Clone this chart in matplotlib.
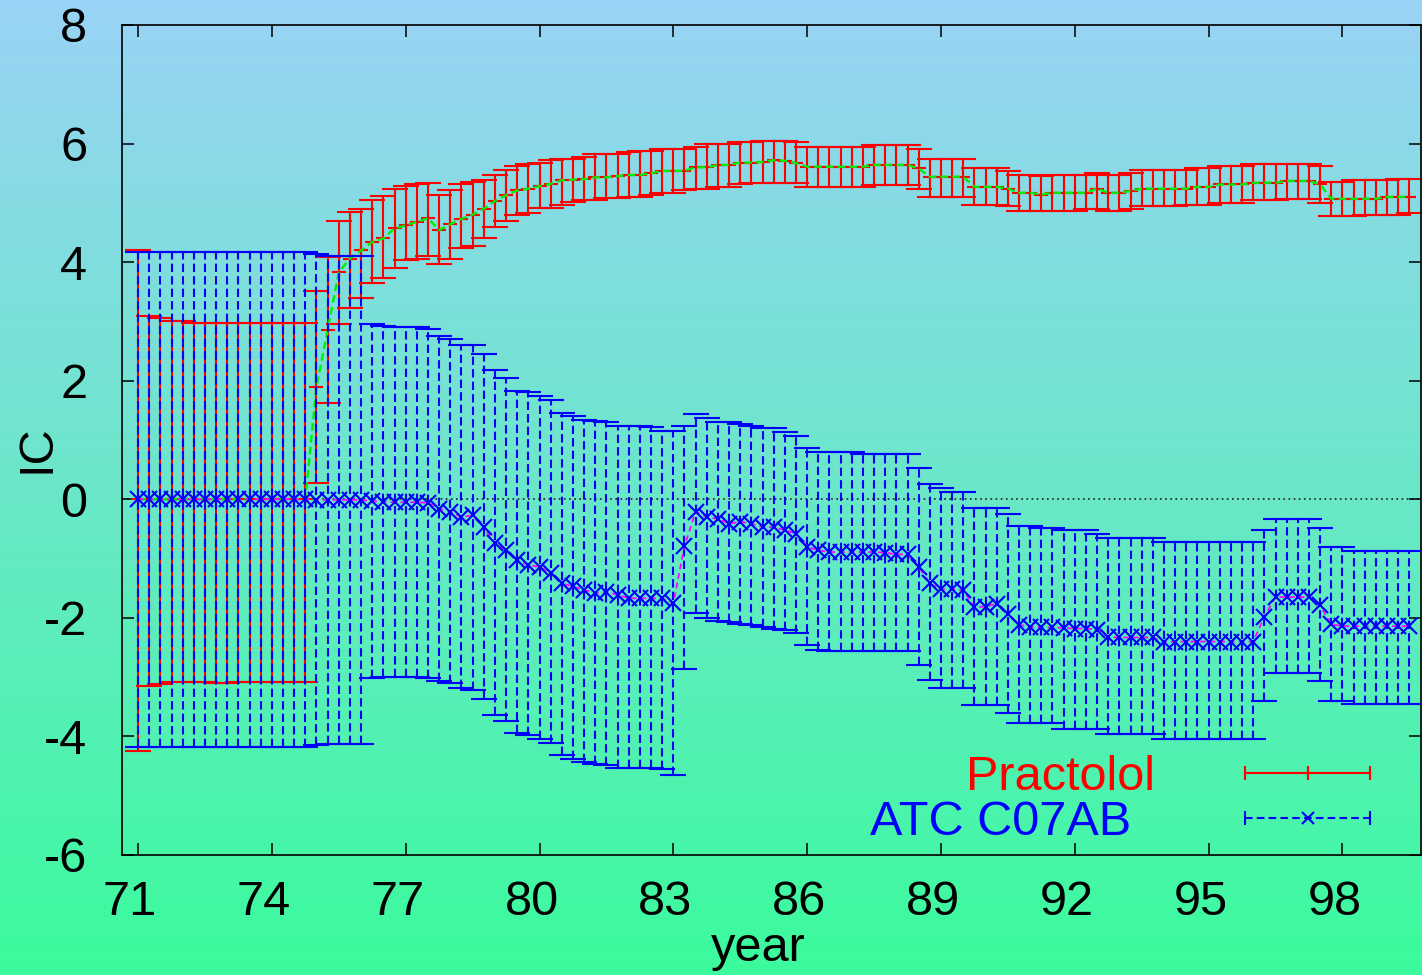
import numpy as np
import matplotlib
matplotlib.use('Agg')
import matplotlib.pyplot as plt
from matplotlib.colors import LinearSegmentedColormap
from matplotlib.transforms import ScaledTranslation

plt.rcParams['font.family'] = ['Liberation Sans', 'DejaVu Sans']
plt.rcParams['axes.unicode_minus'] = False
plt.rcParams['lines.scale_dashes'] = False

# quarterly time axis, 71.0 .. 99.5
years = np.arange(71.0, 99.51, 0.25)

# Practolol: IC estimate with lower / upper limits
prac_c = [0, 0, 0, 0, 0, 0, 0, 0, 0, 0, 0, 0, 0, 0, 0, 0,
          1.9, 2.85, 3.83, 4.06, 4.2, 4.34, 4.4, 4.57, 4.62, 4.68, 4.74, 4.54, 4.64, 4.73, 4.8, 4.9,
          5.03, 5.13, 5.21, 5.24, 5.28, 5.32, 5.38, 5.39, 5.4, 5.43, 5.43, 5.45, 5.47, 5.47, 5.5, 5.54,
          5.54, 5.54, 5.6, 5.6, 5.64, 5.64, 5.68, 5.68, 5.69, 5.72, 5.71, 5.67,
          5.61, 5.61, 5.61, 5.61, 5.61, 5.61, 5.64, 5.64, 5.64, 5.64, 5.58,
          5.44, 5.44, 5.44, 5.44, 5.27, 5.27, 5.27, 5.24, 5.17, 5.17, 5.14, 5.17, 5.17, 5.17, 5.17,
          5.24, 5.17, 5.17, 5.2, 5.24, 5.24, 5.24, 5.24, 5.24, 5.27, 5.27, 5.31, 5.31, 5.31,
          5.34, 5.34, 5.34, 5.37, 5.37, 5.37, 5.31, 5.07, 5.07, 5.07, 5.07, 5.07, 5.1, 5.1, 5.1]
prac_lo = [-4.25, -3.15, -3.12, -3.08, -3.08, -3.08, -3.08, -3.1, -3.1, -3.08, -3.08, -3.08, -3.08, -3.08, -3.08, -3.08,
           0.27, 1.62, 2.95, 3.23, 3.39, 3.64, 3.73, 3.9, 4.03, 4.06, 4.1, 3.97, 4.06, 4.24, 4.27, 4.4,
           4.6, 4.7, 4.8, 4.83, 4.91, 4.91, 4.97, 5.01, 5.04, 5.04, 5.08, 5.08, 5.1, 5.1, 5.14, 5.17,
           5.17, 5.21, 5.24, 5.24, 5.27, 5.27, 5.31, 5.34, 5.34, 5.34, 5.34, 5.34,
           5.27, 5.27, 5.27, 5.27, 5.27, 5.27, 5.3, 5.3, 5.3, 5.3, 5.24,
           5.1, 5.1, 5.1, 5.1, 4.97, 4.97, 4.97, 4.94, 4.87, 4.87, 4.87, 4.87, 4.87, 4.87, 4.9,
           4.9, 4.87, 4.87, 4.9, 4.94, 4.94, 4.94, 4.94, 4.97, 4.97, 4.97, 5.0, 5.0, 5.0,
           5.04, 5.04, 5.04, 5.07, 5.07, 5.07, 5.0, 4.77, 4.77, 4.77, 4.8, 4.8, 4.8, 4.8, 4.83]
prac_hi = [4.2, 3.09, 3.05, 3.0, 3.0, 2.97, 2.97, 2.97, 2.97, 2.97, 2.97, 2.97, 2.97, 2.97, 2.97, 2.97,
           3.52, 4.09, 4.7, 4.84, 4.9, 5.04, 5.11, 5.24, 5.28, 5.31, 5.34, 5.14, 5.21, 5.31, 5.35, 5.38,
           5.47, 5.55, 5.62, 5.65, 5.68, 5.72, 5.74, 5.74, 5.78, 5.82, 5.82, 5.82, 5.86, 5.88, 5.88, 5.91,
           5.91, 5.91, 5.95, 5.99, 5.99, 5.99, 6.02, 6.02, 6.05, 6.05, 6.05, 6.02,
           5.95, 5.95, 5.95, 5.95, 5.95, 5.95, 5.98, 5.98, 5.98, 5.98, 5.91,
           5.74, 5.74, 5.74, 5.74, 5.58, 5.58, 5.58, 5.54, 5.47, 5.47, 5.45, 5.47, 5.47, 5.47, 5.47,
           5.51, 5.47, 5.47, 5.51, 5.55, 5.55, 5.55, 5.55, 5.55, 5.58, 5.58, 5.62, 5.62, 5.62,
           5.65, 5.65, 5.65, 5.65, 5.65, 5.65, 5.62, 5.35, 5.35, 5.38, 5.38, 5.38, 5.38, 5.41, 5.41]

# ATC C07AB: IC estimate with lower / upper limits
atc_c = [0, 0, 0, 0, 0, 0, 0, 0, 0, 0, 0, 0, 0, 0, 0, 0,
         -0.01, -0.01, -0.01, -0.01, -0.01, -0.03, -0.04, -0.05, -0.05, -0.05, -0.06, -0.16, -0.21, -0.3, -0.27, -0.47,
         -0.74, -0.86, -1.03, -1.11, -1.14, -1.24, -1.42, -1.47, -1.53, -1.58, -1.56, -1.61, -1.67, -1.67, -1.67, -1.67,
         -1.75, -0.79, -0.21, -0.3, -0.33, -0.41, -0.38, -0.41, -0.47, -0.47, -0.52, -0.58,
         -0.8, -0.86, -0.89, -0.89, -0.89, -0.89, -0.89, -0.9, -0.93, -0.93, -1.14,
         -1.42, -1.52, -1.52, -1.53, -1.82, -1.81, -1.76, -1.93, -2.12, -2.15, -2.16, -2.16, -2.17, -2.18, -2.18,
         -2.2, -2.32, -2.33, -2.33, -2.33, -2.33, -2.41, -2.4, -2.4, -2.4, -2.4, -2.4, -2.4, -2.4,
         -2.4, -1.98, -1.65, -1.65, -1.65, -1.65, -1.79, -2.11, -2.14, -2.14, -2.14, -2.14, -2.14, -2.14, -2.14]
atc_lo = [-4.18, -4.18, -4.18, -4.18, -4.18, -4.18, -4.18, -4.18, -4.18, -4.18, -4.18, -4.18, -4.18, -4.18, -4.18, -4.18,
          -4.15, -4.12, -4.12, -4.12, -4.12, -3.01, -3.0, -3.0, -3.0, -3.0, -3.01, -3.07, -3.1, -3.18, -3.21, -3.37,
          -3.64, -3.74, -3.94, -3.98, -4.05, -4.11, -4.32, -4.38, -4.43, -4.47, -4.49, -4.54, -4.54, -4.54, -4.54, -4.55,
          -4.65, -2.87, -1.91, -2.0, -2.05, -2.07, -2.1, -2.12, -2.16, -2.19, -2.21, -2.25,
          -2.46, -2.55, -2.56, -2.56, -2.56, -2.56, -2.56, -2.56, -2.56, -2.56, -2.8,
          -3.05, -3.18, -3.19, -3.19, -3.47, -3.47, -3.47, -3.61, -3.78, -3.78, -3.78, -3.78, -3.87, -3.87, -3.87,
          -3.87, -3.96, -3.96, -3.96, -3.96, -3.96, -4.05, -4.05, -4.05, -4.05, -4.05, -4.05, -4.05, -4.05,
          -4.05, -3.41, -2.93, -2.93, -2.93, -2.93, -3.06, -3.41, -3.41, -3.45, -3.45, -3.45, -3.45, -3.45, -3.45]
atc_hi = [4.17, 4.17, 4.17, 4.17, 4.17, 4.17, 4.17, 4.17, 4.17, 4.17, 4.17, 4.17, 4.17, 4.17, 4.17, 4.17,
          4.13, 4.1, 4.1, 4.1, 4.1, 2.95, 2.92, 2.9, 2.9, 2.9, 2.87, 2.75, 2.7, 2.61, 2.61, 2.45,
          2.18, 2.05, 1.82, 1.81, 1.74, 1.67, 1.46, 1.4, 1.34, 1.32, 1.3, 1.24, 1.24, 1.24, 1.22, 1.15,
          1.15, 1.24, 1.44, 1.37, 1.3, 1.3, 1.27, 1.23, 1.2, 1.2, 1.13, 1.06,
          0.86, 0.8, 0.8, 0.8, 0.79, 0.76, 0.76, 0.76, 0.76, 0.76, 0.53,
          0.26, 0.19, 0.12, 0.12, -0.15, -0.15, -0.15, -0.25, -0.45, -0.45, -0.48, -0.48, -0.51, -0.51, -0.51,
          -0.58, -0.65, -0.65, -0.65, -0.65, -0.65, -0.72, -0.72, -0.72, -0.72, -0.72, -0.72, -0.72, -0.72,
          -0.72, -0.51, -0.34, -0.34, -0.34, -0.34, -0.48, -0.81, -0.81, -0.88, -0.88, -0.88, -0.88, -0.88, -0.88]

xticks = [71, 74, 77, 80, 83, 86, 89, 92, 95, 98]
yticks = [-6, -4, -2, 0, 2, 4, 6, 8]

prac_c, prac_lo, prac_hi = map(np.array, (prac_c, prac_lo, prac_hi))
atc_c, atc_lo, atc_hi = map(np.array, (atc_c, atc_lo, atc_hi))

FS = 35
W, H = 1422, 975
fig = plt.figure(figsize=(W / 100, H / 100), dpi=100)

# gradient background over the whole picture
bg = fig.add_axes([0, 0, 1, 1], zorder=0)
cmap = LinearSegmentedColormap.from_list('bg', ['#9ad3f6', '#3bfb9c'])
bg.imshow(np.linspace(0, 1, 256).reshape(-1, 1), aspect='auto', cmap=cmap,
          extent=[0, 1, 0, 1], origin='upper')
bg.axis('off')

ax = fig.add_axes([122 / W, 1 - 855 / H, (1420.5 - 122) / W, 830 / H], zorder=1)
ax.patch.set_alpha(0)

ax.axhline(0, color='#202020', lw=1.2, ls=(0, (1.2, 2.5)), zorder=1)

# Practolol
ax.errorbar(years, prac_c, yerr=[prac_c - prac_lo, prac_hi - prac_c], fmt='none',
            ecolor='#ff0000', elinewidth=1.5, capsize=9.4, capthick=1.5, zorder=2)
ax.plot(years, prac_c, ls='none', marker='+', ms=9.4, mew=1.5, color='#ff0000', zorder=2)
ax.plot(years, prac_c, color='#00ee00', lw=1.7, dashes=(5.5, 3), zorder=3)

# ATC C07AB
eb = ax.errorbar(years, atc_c, yerr=[atc_c - atc_lo, atc_hi - atc_c], fmt='none',
                 ecolor='#0000ff', elinewidth=1.5, capsize=9.4, capthick=1.5, zorder=4)
eb.lines[2][0].set_linestyle((0, (6, 3)))
ax.plot(years, atc_c, color='#ff00ff', lw=1.3, dashes=(4, 3), zorder=5)
ax.plot(years, atc_c, ls='none', marker='x', ms=11, mew=1.5, color='#0000ff', zorder=6)

ax.set_xlim(70.64, 99.75)
ax.set_ylim(-6, 8)
ax.set_xticks(xticks)
ax.set_yticks(yticks)
ax.tick_params(direction='in', length=8.6, width=1.1, top=True, right=True,
               labelsize=FS, colors='black')
ax.tick_params(axis='x', pad=18)
ax.tick_params(axis='y', pad=25)
for s in ax.spines.values():
    s.set_linewidth(1.2)
    s.set_color('black')

# gnuplot puts the x numbers a little left of their ticks
shift = ScaledTranslation(-8 / 100, 0, fig.dpi_scale_trans)
for lab in ax.get_xticklabels():
    lab.set_transform(lab.get_transform() + shift)

ax.set_xlabel('year', fontsize=FS)
ax.xaxis.set_label_coords(0.49, -0.086)
ax.set_ylabel('IC', fontsize=FS)
ax.yaxis.set_label_coords(-0.048, 0.49)

# key, drawn in gnuplot fashion
ax.text(0.7955, 0.0783, 'Practolol', transform=ax.transAxes, ha='right', va='baseline',
        color='#ff0000', fontsize=FS)
ax.text(0.777, 0.0241, 'ATC C07AB', transform=ax.transAxes, ha='right', va='baseline',
        color='#0000ff', fontsize=FS)
kx = [0.865, 0.961]
ax.plot(kx, [0.0988, 0.0988], transform=ax.transAxes, color='#ff0000', lw=1.5, zorder=7)
ax.plot(kx, [0.0988, 0.0988], transform=ax.transAxes, ls='none', marker='|', ms=9.4,
        mew=1.5, color='#ff0000', zorder=7)
ax.plot([0.913], [0.0988], transform=ax.transAxes, ls='none', marker='+', ms=9.4,
        mew=1.5, color='#ff0000', zorder=7)
ax.plot(kx, [0.0446, 0.0446], transform=ax.transAxes, color='#0000ff', lw=1.5,
        dashes=(5.5, 3), zorder=7)
ax.plot(kx, [0.0446, 0.0446], transform=ax.transAxes, ls='none', marker='|', ms=9.4,
        mew=1.5, color='#0000ff', zorder=7)
ax.plot([0.913], [0.0446], transform=ax.transAxes, ls='none', marker='x', ms=9,
        mew=1.5, color='#0000ff', zorder=7)

fig.savefig('out.png', dpi=100)
